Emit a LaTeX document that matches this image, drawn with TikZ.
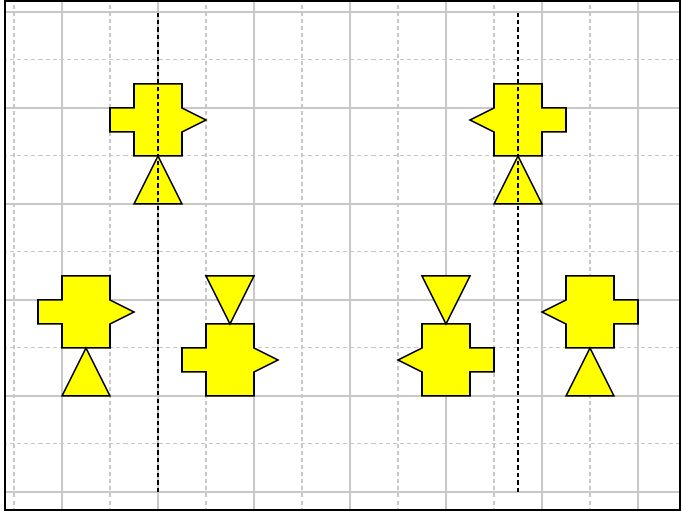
\documentclass[tikz,border=0pt]{standalone}
\usepackage{tikz}
\usetikzlibrary{positioning}

\definecolor{gridgray}{RGB}{200,200,200}
\definecolor{figyellow}{RGB}{255,255,0}

\begin{document}
\begin{tikzpicture}[x=1cm,y=1cm,
  minorline/.style={gridgray,line width=0.6pt,dash pattern=on 2.4pt off 1.8pt},
  majorline/.style={gridgray,line width=0.9pt},
  figpart/.style={draw=black,fill=figyellow,line width=0.9pt,line join=miter},
  mirrorline/.style={black,line width=0.8pt,dash pattern=on 2.6pt off 1.8pt}]
\useasboundingbox (-1.2917,-0.4375) rectangle (12.9375,10.25);
% grid inside the frame
\begin{scope}
\clip (-1.1875,-0.375) rectangle (12.875,10.229);
\draw[minorline] (-3,-1) grid[step=1] (13,11);
\draw[majorline] (-2,-2) grid[step=2] (14,12);
\end{scope}
\draw[black,line width=1.1pt] (-1.1875,-0.375) rectangle (12.875,10.229);
% top pair
\filldraw[figpart,shift={(2,7)}] (-0.5,0) -- (0.5,0) -- (0.5,0.5) -- (1,0.75) -- (0.5,1) -- (0.5,1.5) -- (-0.5,1.5) -- (-0.5,1) -- (-1,1) -- (-1,0.5) -- (-0.5,0.5) -- cycle;
\filldraw[figpart,shift={(2,7)}] (-0.5,-1) -- (0.5,-1) -- (0,0) -- cycle;
\filldraw[figpart,shift={(9.5,7)},xscale=-1] (-0.5,0) -- (0.5,0) -- (0.5,0.5) -- (1,0.75) -- (0.5,1) -- (0.5,1.5) -- (-0.5,1.5) -- (-0.5,1) -- (-1,1) -- (-1,0.5) -- (-0.5,0.5) -- cycle;
\filldraw[figpart,shift={(9.5,7)}] (-0.5,-1) -- (0.5,-1) -- (0,0) -- cycle;
% bottom left
\filldraw[figpart,shift={(0.5,3)}] (-0.5,0) -- (0.5,0) -- (0.5,0.5) -- (1,0.75) -- (0.5,1) -- (0.5,1.5) -- (-0.5,1.5) -- (-0.5,1) -- (-1,1) -- (-1,0.5) -- (-0.5,0.5) -- cycle;
\filldraw[figpart,shift={(0.5,3)}] (-0.5,-1) -- (0.5,-1) -- (0,0) -- cycle;
\filldraw[figpart,shift={(3.5,2)}] (-0.5,0) -- (0.5,0) -- (0.5,0.5) -- (1,0.75) -- (0.5,1) -- (0.5,1.5) -- (-0.5,1.5) -- (-0.5,1) -- (-1,1) -- (-1,0.5) -- (-0.5,0.5) -- cycle;
\filldraw[figpart,shift={(3.5,2)}] (-0.5,2.5) -- (0.5,2.5) -- (0,1.5) -- cycle;
% bottom right
\filldraw[figpart,shift={(8,2)},xscale=-1] (-0.5,0) -- (0.5,0) -- (0.5,0.5) -- (1,0.75) -- (0.5,1) -- (0.5,1.5) -- (-0.5,1.5) -- (-0.5,1) -- (-1,1) -- (-1,0.5) -- (-0.5,0.5) -- cycle;
\filldraw[figpart,shift={(8,2)}] (-0.5,2.5) -- (0.5,2.5) -- (0,1.5) -- cycle;
\filldraw[figpart,shift={(11,3)},xscale=-1] (-0.5,0) -- (0.5,0) -- (0.5,0.5) -- (1,0.75) -- (0.5,1) -- (0.5,1.5) -- (-0.5,1.5) -- (-0.5,1) -- (-1,1) -- (-1,0.5) -- (-0.5,0.5) -- cycle;
\filldraw[figpart,shift={(11,3)}] (-0.5,-1) -- (0.5,-1) -- (0,0) -- cycle;
% mirror lines
\draw[mirrorline] (2,0) -- (2,10);
\draw[mirrorline] (9.5,0) -- (9.5,10);
\end{tikzpicture}
\end{document}
